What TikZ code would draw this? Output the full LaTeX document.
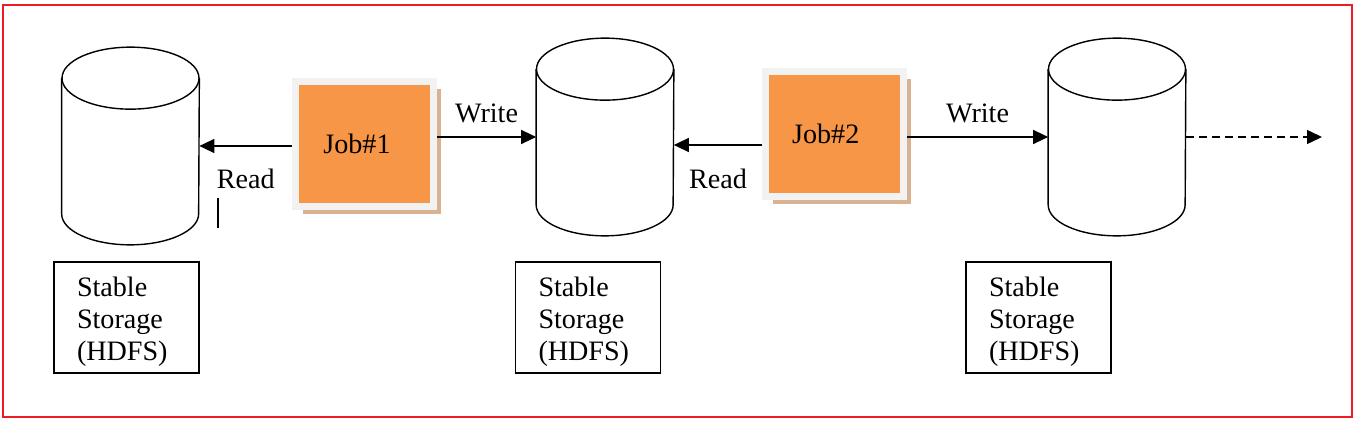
\documentclass[tikz,border=0pt]{standalone}
\usepackage{fontspec}
\setmainfont{Liberation Serif}
\usetikzlibrary{arrows.meta,shadows}

\definecolor{jobfill}{RGB}{247,150,70}
\definecolor{jobframe}{RGB}{242,242,242}
\definecolor{jobshadow}{RGB}{216,178,145}
\definecolor{borderred}{RGB}{237,28,36}

\begin{document}
\begin{tikzpicture}[
    cylbody/.style={minimum width=2.74cm, minimum height=2.7cm, inner sep=0pt},
    cylline/.style={line width=0.8pt},
    job/.style={fill=jobfill, draw=jobframe, line width=0.14cm, minimum width=2.76cm, minimum height=2.5cm,
      drop shadow={fill=jobshadow, opacity=1, shadow xshift=0.145cm, shadow yshift=-0.145cm},
      font=\fontsize{16}{18}\selectfont},
    store/.style={draw, line width=0.9pt, minimum width=2.9cm, minimum height=2.22cm, text width=1.98cm,
      inner ysep=0pt, align=left, font=\fontsize{16}{18.2}\selectfont},
    flow/.style={-{Triangle[length=0.3cm, width=0.28cm]}, line width=0.8pt},
    lbl/.style={font=\fontsize{16}{18}\selectfont}
  ]
    \useasboundingbox (0,0) rectangle (27.08,8.4);
    % Outer frame
    \draw[borderred, line width=1.2pt] (0.06,0.06) rectangle (27.04,8.3);

    % Storage cylinders
    \node[cylbody] (c1) at (2.61,5.48) {};
    \node[cylbody] (c2) at (12.10,5.66) {};
    \node[cylbody] (c3) at (22.34,5.66) {};
    \foreach \c in {c1,c2,c3} {
      \draw[cylline] (\c.north west) -- (\c.south west)
        arc[start angle=180, end angle=360, x radius=1.37cm, y radius=0.62cm] -- (\c.north east);
      \draw[cylline] (\c.north) ellipse [x radius=1.37cm, y radius=0.62cm];
    }

    % Jobs
    \node[job] (j1) at (7.29,5.52) {Job\#1\kern0.3cm};
    \node[job] (j2) at (16.69,5.72) {Job\#2\kern0.35cm};

    % Stable storage labels
    \node[store] (s1) at (2.53,2.05) {\rule{0pt}{16pt}Stable\\Storage\\(HDFS)};
    \node[store] (s2) at (11.76,2.05) {\rule{0pt}{16pt}Stable\\Storage\\(HDFS)};
    \node[store] (s3) at (20.77,2.05) {\rule{0pt}{16pt}Stable\\Storage\\(HDFS)};

    % Read / write arrows
    \coordinate (next) at (26.44,5.66);
    \draw[flow] (j1.west |- c1.east) -- node[lbl, below=0.33cm] {Read} (c1.east);
    \draw[flow] (j1.east |- c2.west) -- node[lbl, above=0.16cm] {Write} (c2.west);
    \draw[flow] ([yshift=-0.22cm]j2.west) -- node[lbl, below=0.35cm] {Read} ([yshift=-0.22cm]j2.west -| c2.east);
    \draw[flow] (j2.east |- c3.west) -- node[lbl, above=0.16cm] {Write} (c3.west);
    \draw[flow, dash pattern=on 0.16cm off 0.1cm] (c3.east) -- (next);

    \draw[line width=1.2pt] (4.36,3.84) -- (4.36,4.44);
  \end{tikzpicture}
\end{document}
